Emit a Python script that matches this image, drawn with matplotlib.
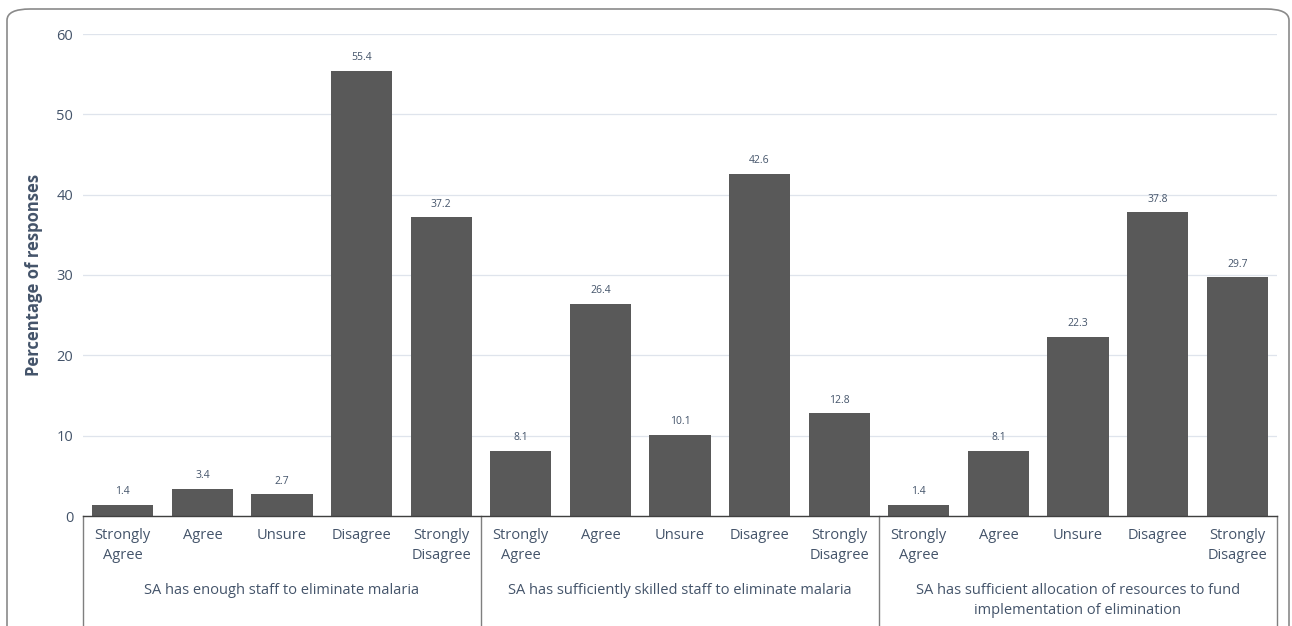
import matplotlib
matplotlib.use("Agg")
import matplotlib.pyplot as plt
from matplotlib.patches import FancyBboxPatch
from matplotlib.lines import Line2D

responses = ["Strongly\nAgree", "Agree", "Unsure", "Disagree", "Strongly\nDisagree"]
groups = ["SA has enough staff to eliminate malaria",
          "SA has sufficiently skilled staff to eliminate malaria",
          "SA has sufficient allocation of resources to fund\nimplementation of elimination"]
staff = [1.4, 3.4, 2.7, 55.4, 37.2]
skilled = [8.1, 26.4, 10.1, 42.6, 12.8]
resources = [1.4, 8.1, 22.3, 37.8, 29.7]
yticks = [0, 10, 20, 30, 40, 50, 60]

values = staff + skilled + resources
labels = responses * 3

plt.rcParams['font.family'] = ['Open Sans', 'DejaVu Sans']
txt = '#44546A'
W, H = 1292, 626
fig = plt.figure(figsize=(W/100, H/100), dpi=100)

# frame
frame = FancyBboxPatch((7/W, -0.1), (1289-7)/W, (626-9)/H + 0.1,
                       boxstyle="round,pad=0,rounding_size=0.018",
                       transform=fig.transFigure, fill=False,
                       edgecolor='#8a8a8a', linewidth=1.2, clip_on=False)
fig.patches.append(frame)

x0, x1 = 83, 1277
ytop, ybot = 34, 516
ax = fig.add_axes([x0/W, (H-ybot)/H, (x1-x0)/W, (ybot-ytop)/H])
xs = list(range(len(values)))
bars = ax.bar(xs, values, width=0.77, color='#595959', zorder=3)
ax.set_xlim(-0.5, len(values)-0.5)
ax.set_ylim(0, 60)
ax.set_yticks(yticks)
ax.set_yticklabels([str(t) for t in yticks], color=txt, fontsize=10.5)
ax.tick_params(axis='y', length=0, pad=7)
ax.set_xticks([])
ax.grid(axis='y', color='#dfe4ec', linewidth=0.9, zorder=0)
for s in ['top', 'right', 'left']:
    ax.spines[s].set_visible(False)
ax.spines['bottom'].set_color('#404040')
ax.spines['bottom'].set_linewidth(1.0)
ax.spines['bottom'].set_zorder(4)

for x, v in zip(xs, values):
    ax.annotate(f"{v:.1f}", (x, v), xytext=(0, 5.5), textcoords='offset points',
                ha='center', va='bottom', fontsize=7.5, color=txt)

axh = ybot - ytop
def yfrac(py):
    return (ybot - py) / axh

tr = ax.get_xaxis_transform()
for x, lab in zip(xs, labels):
    ax.text(x, yfrac(528), lab, transform=tr, ha='center', va='top',
            fontsize=10.5, color=txt, linespacing=1.45, clip_on=False)
for g, name in enumerate(groups):
    ax.text(g*5 + 2, yfrac(583), name, transform=tr, ha='center', va='top',
            fontsize=10.5, color=txt, linespacing=1.45, clip_on=False)
for sx in [-0.5, 4.5, 9.5, 14.5]:
    ax.add_line(Line2D([sx, sx], [0, yfrac(640)], transform=tr, color='#7f7f7f',
                       linewidth=1.0, clip_on=False))

ax.set_ylabel("Percentage of responses", fontsize=12, fontweight='bold',
              color=txt)
ax.yaxis.set_label_coords((43 - x0) / (x1 - x0), 0.5)

fig.savefig("out.png", dpi=100)
